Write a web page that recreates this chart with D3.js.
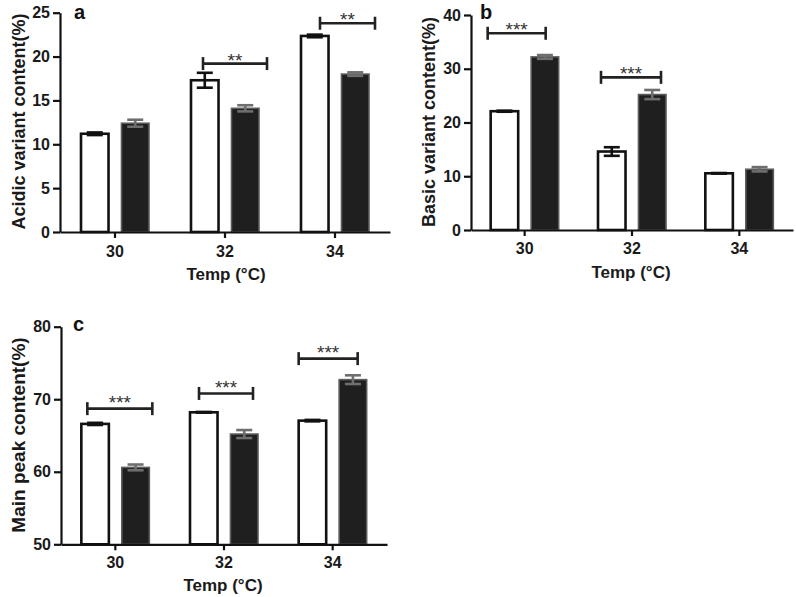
<!DOCTYPE html>
<html>
<head>
<meta charset="utf-8">
<script src="https://cdn.jsdelivr.net/npm/d3@7/dist/d3.min.js"></script>
<style>
  html, body { margin: 0; padding: 0; background: #fff; }
  svg { display: block; font-family: "Liberation Sans", Arial, Helvetica, sans-serif; }
</style>
</head>
<body>
<svg id="chart" width="796" height="597"></svg>
<script>
// ---------------- DATA ----------------
const categories = ["30", "32", "34"];
const seriesKeys = ["open", "filled"];

const acidicOpen = [11.2, 17.3, 22.35];
const acidicOpenErr = [0.15, 0.85, 0.15];
const acidicFilled = [12.4, 14.1, 18.0];
const acidicFilledErr = [0.4, 0.35, 0.2];

const basicOpen = [22.1, 14.6, 10.55];
const basicOpenErr = [0.1, 0.8, 0.05];
const basicFilled = [32.2, 25.2, 11.3];
const basicFilledErr = [0.35, 0.85, 0.4];

const mainOpen = [66.6, 68.2, 67.05];
const mainOpenErr = [0.15, 0.05, 0.1];
const mainFilled = [60.6, 65.2, 72.7];
const mainFilledErr = [0.4, 0.55, 0.6];

const acidicTicks = [0, 5, 10, 15, 20, 25];
const basicTicks = [0, 10, 20, 30, 40];
const mainTicks = [50, 60, 70, 80];

// significance annotations: category, bracket height (data units), label
const acidicSig = [{ cat: "32", y: 19.2, label: "**" }, { cat: "34", y: 23.8, label: "**" }];
const basicSig = [{ cat: "30", y: 36.6, label: "***" }, { cat: "32", y: 28.4, label: "***" }];
const mainSig = [{ cat: "30", y: 68.7, label: "***" }, { cat: "32", y: 70.8, label: "***" }, { cat: "34", y: 75.6, label: "***" }];

// ---------------- LAYOUT ----------------
const svg = d3.select("#chart");
const FONT = "\"Liberation Sans\", Arial, Helvetica, sans-serif";

function drawPanel(cfg) {
  const g = svg.append("g");
  const x = d3.scaleBand().domain(categories).range(cfg.xRange).padding(0);
  const y = d3.scaleLinear().domain(cfg.yDomain).range(cfg.yRange);
  const x1 = d3.scaleBand().domain(seriesKeys).range([-34, 34]).paddingInner(0.32).paddingOuter(0);
  const cx = c => x(c) + x.bandwidth() / 2;

  const rows = [];
  categories.forEach((c, i) => {
    rows.push({ cat: c, key: "open", v: cfg.open[i], e: cfg.openErr[i] });
    rows.push({ cat: c, key: "filled", v: cfg.filled[i], e: cfg.filledErr[i] });
  });

  const base = cfg.yDomain[0];

  // bars
  g.selectAll("rect.bar").data(rows).enter().append("rect")
    .attr("class", "bar")
    .attr("x", d => cx(d.cat) + x1(d.key))
    .attr("width", x1.bandwidth())
    .attr("y", d => y(d.v))
    .attr("height", d => y(base) - y(d.v))
    .attr("fill", d => d.key === "open" ? "#ffffff" : "#1f1f1f")
    .attr("stroke", d => d.key === "open" ? "#111" : "#5c5c5c")
    .attr("stroke-width", d => d.key === "open" ? 2.6 : 1.6);

  // error bars
  const eb = g.selectAll("g.err").data(rows).enter().append("g").attr("class", "err")
    .attr("stroke", d => d.key === "open" ? "#111" : "#6e6e6e")
    .attr("stroke-width", 2.6);
  const ecx = d => cx(d.cat) + x1(d.key) + x1.bandwidth() / 2;
  eb.append("line")
    .attr("x1", ecx).attr("x2", ecx)
    .attr("y1", d => y(d.v + d.e)).attr("y2", d => y(d.v - d.e));
  eb.append("line")
    .attr("x1", d => ecx(d) - 8).attr("x2", d => ecx(d) + 8)
    .attr("y1", d => y(d.v + d.e)).attr("y2", d => y(d.v + d.e));
  eb.append("line")
    .attr("x1", d => ecx(d) - 8).attr("x2", d => ecx(d) + 8)
    .attr("y1", d => y(d.v - d.e)).attr("y2", d => y(d.v - d.e));

  // axes
  const yAxis = d3.axisLeft(y).tickValues(cfg.ticks).tickSize(7).tickPadding(3).tickSizeOuter(0);
  const gy = g.append("g").attr("transform", `translate(${cfg.xRange[0]},0)`).call(yAxis);
  const xAxis = d3.axisBottom(x).tickSize(6).tickPadding(cfg.xTickPad).tickSizeOuter(0);
  const gx = g.append("g").attr("transform", `translate(0,${cfg.yRange[0]})`).call(xAxis);
  [gx, gy].forEach(a => {
    a.select(".domain").attr("stroke", "#111").attr("stroke-width", 2.2);
    a.selectAll(".tick line").attr("stroke", "#111").attr("stroke-width", 2.2);
    a.selectAll(".tick text").attr("fill", "#1a1a1a")
      .style("font-family", FONT).style("font-size", "16px").style("font-weight", "bold");
  });

  // significance brackets
  cfg.sig.forEach((s, i) => {
    const off = cfg.sigOffsets[i];
    const x0 = cx(s.cat) + off[0], x2 = cx(s.cat) + off[1];
    const yy = y(s.y);
    const sg = g.append("g").attr("stroke", "#222").attr("stroke-width", 2.6);
    sg.append("line").attr("x1", x0).attr("x2", x2).attr("y1", yy).attr("y2", yy);
    sg.append("line").attr("x1", x0).attr("x2", x0).attr("y1", yy - 6.5).attr("y2", yy + 6.5);
    sg.append("line").attr("x1", x2).attr("x2", x2).attr("y1", yy - 6.5).attr("y2", yy + 6.5);
    g.append("text")
      .attr("x", (x0 + x2) / 2).attr("y", yy + cfg.starDy)
      .attr("text-anchor", "middle")
      .attr("fill", "#333")
      .style("font-family", FONT).style("font-size", "19px")
      .text(s.label);
  });

  // axis titles
  g.append("text")
    .attr("transform", `translate(${cfg.yTitle[0]},${cfg.yTitle[1]}) rotate(-90)`)
    .attr("text-anchor", "middle")
    .attr("fill", "#1a1a1a")
    .style("font-family", FONT).style("font-size", cfg.yTitleSize + "px").style("font-weight", "bold")
    .text(cfg.yLabel);
  g.append("text")
    .attr("x", cfg.xTitle[0]).attr("y", cfg.xTitle[1])
    .attr("text-anchor", "middle")
    .attr("fill", "#1a1a1a")
    .style("font-family", FONT).style("font-size", "17px").style("font-weight", "bold")
    .text("Temp (\u00B0C)");

  // panel letter
  g.append("text")
    .attr("x", cfg.letterPos[0]).attr("y", cfg.letterPos[1])
    .attr("fill", "#111")
    .style("font-family", FONT).style("font-size", "20px").style("font-weight", "bold")
    .text(cfg.letter);
}

drawPanel({
  letter: "a", letterPos: [74, 19],
  xRange: [60, 390], yRange: [232, 12.7], yDomain: [0, 25], ticks: acidicTicks,
  open: acidicOpen, openErr: acidicOpenErr, filled: acidicFilled, filledErr: acidicFilledErr,
  sig: acidicSig, sigOffsets: [[-22, 42], [-15, 40]], starDy: 3,
  yLabel: "Acidic variant content(%)", yTitle: [25, 121.5], yTitleSize: 18, xTitle: [226, 280], xTickPad: 8
});

drawPanel({
  letter: "b", letterPos: [480, 19],
  xRange: [471, 793], yRange: [230, 15], yDomain: [0, 40], ticks: basicTicks,
  open: basicOpen, openErr: basicOpenErr, filled: basicFilled, filledErr: basicFilledErr,
  sig: basicSig, sigOffsets: [[-37, 21], [-31, 29]], starDy: 3,
  yLabel: "Basic variant content(%)", yTitle: [435, 122], yTitleSize: 18, xTitle: [631, 278], xTickPad: 7
});

drawPanel({
  letter: "c", letterPos: [73, 331],
  xRange: [61, 387], yRange: [544.3, 326.7], yDomain: [50, 80], ticks: mainTicks,
  open: mainOpen, openErr: mainOpenErr, filled: mainFilled, filledErr: mainFilledErr,
  sig: mainSig, sigOffsets: [[-28, 37], [-25, 29], [-34, 25]], starDy: 0.5,
  yLabel: "Main peak content(%)", yTitle: [25, 435], yTitleSize: 19, xTitle: [223, 591], xTickPad: 6
});
</script>
</body>
</html>
